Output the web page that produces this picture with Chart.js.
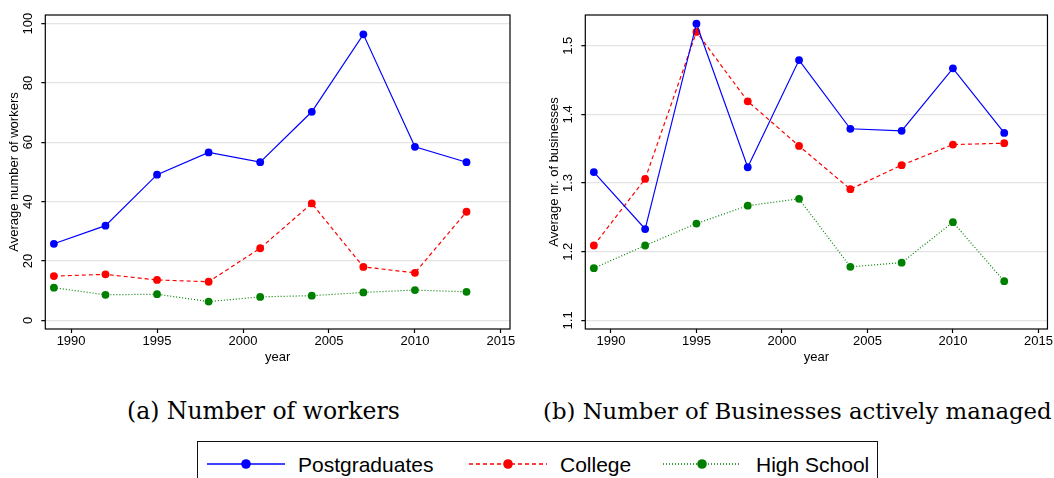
<!DOCTYPE html>
<html>
<head>
<meta charset="utf-8">
<script src="https://cdn.jsdelivr.net/npm/chart.js@4/dist/chart.umd.min.js"></script>
<style>
    body { margin: 0; width: 1054px; height: 478px; background: #fff; position: relative; overflow: hidden; font-family: "Liberation Sans", Arial, sans-serif; }
    .panel { position: absolute; top: 0; height: 368px; }
    #panel-a { left: 0; width: 520px; }
    #panel-b { left: 530px; width: 524px; }
    .caption { position: absolute; top: 396px; font-family: "DejaVu Serif", serif; font-size: 23.5px; line-height: 30px; white-space: nowrap; color: #000; }
    #caption-b { font-size: 22.8px; }
    #legend { position: absolute; left: 197px; top: 441px; width: 681px; height: 60px; border: 1px solid #111; box-sizing: border-box; }
    .legend-item { position: absolute; top: 0; }
    .legend-item svg { position: absolute; top: 13px; }
    .legend-item span { position: absolute; top: 12px; font-size: 21px; line-height: 21px; white-space: nowrap; color: #000; }
</style>
</head>
<body>
<div class="panel" id="panel-a"><canvas id="chart-workers"></canvas></div>
<div class="panel" id="panel-b"><canvas id="chart-business"></canvas></div>
<div class="caption" id="caption-a" style="left:127px"></div>
<div class="caption" id="caption-b" style="left:543px"></div>
<div id="legend"></div>
<script>
const years = [1989, 1992, 1995, 1998, 2001, 2004, 2007, 2010, 2013];
const workersPostgrad = [25.8, 31.9, 49.1, 56.6, 53.3, 70.3, 96.4, 58.5, 53.3];
const workersCollege = [14.9, 15.5, 13.6, 13.0, 24.3, 39.4, 18.0, 16.0, 36.6];
const workersHighSchool = [11.0, 8.6, 8.8, 6.3, 7.9, 8.3, 9.4, 10.2, 9.6];
const bizPostgrad = [1.316, 1.233, 1.532, 1.323, 1.479, 1.379, 1.376, 1.467, 1.373];
const bizCollege = [1.209, 1.306, 1.520, 1.419, 1.354, 1.291, 1.326, 1.356, 1.358];
const bizHighSchool = [1.176, 1.209, 1.241, 1.267, 1.277, 1.178, 1.184, 1.243, 1.157];
const seriesNames = ['Postgraduates', 'College', 'High School'];
const xTicks = [1990, 1995, 2000, 2005, 2010, 2015];
const workersTicks = [0, 20, 40, 60, 80, 100];
const bizTicks = [1.1, 1.2, 1.3, 1.4, 1.5];
const captions = ['(a) Number of workers', '(b) Number of Businesses actively managed'];

const seriesStyle = [
    { color: '#0000ff', dash: [] },
    { color: '#ff0000', dash: [4, 3] },
    { color: '#008000', dash: [1, 2] }
];

// frame round the plot area plus Stata style vertical y tick labels
const stataAxes = {
    id: 'stataAxes',
    beforeDatasetsDraw(chart) {
        const { ctx, chartArea: a } = chart;
        ctx.save();
        ctx.strokeStyle = '#000';
        ctx.lineWidth = 1.2;
        ctx.strokeRect(a.left, a.top, a.right - a.left, a.bottom - a.top);
        ctx.restore();
    },
    afterDraw(chart) {
        const { ctx } = chart;
        const y = chart.scales.y;
        ctx.save();
        ctx.font = '13px "Liberation Sans"';
        ctx.fillStyle = '#000';
        ctx.textAlign = 'center';
        ctx.textBaseline = 'middle';
        y.ticks.forEach(t => {
            ctx.save();
            ctx.translate(chart.chartArea.left - 16.5, y.getPixelForValue(t.value));
            ctx.rotate(-Math.PI / 2);
            ctx.fillText(String(t.value), 0, 0);
            ctx.restore();
        });
        ctx.restore();
    }
};

function makeChart(id, seriesValues, yTicks, yTitle, yMin, yMax, box) {
    const datasets = seriesValues.map((vals, i) => ({
        label: seriesNames[i],
        data: years.map((yr, j) => ({ x: yr, y: vals[j] })),
        borderColor: seriesStyle[i].color,
        backgroundColor: seriesStyle[i].color,
        borderDash: seriesStyle[i].dash,
        borderWidth: 1.2,
        pointRadius: 3.9,
        pointBorderWidth: 0,
        pointHoverRadius: 3.9,
        tension: 0,
        fill: false
    }));
    return new Chart(document.getElementById(id), {
        type: 'line',
        data: { datasets },
        options: {
            responsive: true,
            maintainAspectRatio: false,
            animation: false,
            layout: { autoPadding: false, padding: { left: 0, top: 15, right: box.right, bottom: 0 } },
            plugins: { legend: { display: false }, tooltip: { enabled: false } },
            scales: {
                x: {
                    type: 'linear',
                    min: 1988.5,
                    max: 2015.53,
                    afterBuildTicks: s => { s.ticks = xTicks.map(v => ({ value: v })); },
                    afterFit: s => { s.height = 39; },
                    border: { display: false },
                    grid: { drawOnChartArea: false, drawTicks: true, tickLength: 4, tickColor: '#000', tickWidth: 1.2 },
                    ticks: { color: '#000', font: { family: 'Liberation Sans', size: 13 }, padding: 1, maxRotation: 0, callback: v => String(v) },
                    title: { display: true, text: 'year', color: '#000', font: { family: 'Liberation Sans', size: 13 }, padding: { top: 0, bottom: 3 } }
                },
                y: {
                    type: 'linear',
                    min: yMin,
                    max: yMax,
                    afterBuildTicks: s => { s.ticks = yTicks.map(v => ({ value: v })); },
                    afterFit: s => { s.width = box.axis; },
                    border: { display: false },
                    grid: { color: '#e4e4e4', lineWidth: 1.3, drawTicks: true, tickLength: 4, tickColor: '#000', tickWidth: 1.2 },
                    ticks: { display: false },
                    title: { display: true, text: yTitle, color: '#000', font: { family: 'Liberation Sans', size: 13 }, padding: { top: box.title, bottom: 0 } }
                }
            }
        },
        plugins: [stataAxes]
    });
}

makeChart('chart-workers', [workersPostgrad, workersCollege, workersHighSchool], workersTicks,
    'Average number of workers', -2.93, 102.93, { axis: 45.3, right: 10, title: 6.9 });
makeChart('chart-business', [bizPostgrad, bizCollege, bizHighSchool], bizTicks,
    'Average nr. of businesses', 1.0874, 1.5447, { axis: 55.3, right: 6.3, title: 16.2 });

document.getElementById('caption-a').textContent = captions[0];
document.getElementById('caption-b').textContent = captions[1];

// legend: line sample with marker, then the name
const legendSampleLeft = [9, 271, 465];
const legendTextLeft = [100, 362, 558];
const legend = document.getElementById('legend');
seriesNames.forEach((name, i) => {
    const item = document.createElement('div');
    item.className = 'legend-item';
    const st = seriesStyle[i];
    item.innerHTML =
        `<svg width="80" height="18" style="left:${legendSampleLeft[i]}px">` +
        `<line x1="0" y1="9" x2="78" y2="9" stroke="${st.color}" stroke-width="1.4" stroke-dasharray="${st.dash.join(' ')}"/>` +
        `<circle cx="39" cy="9" r="4.8" fill="${st.color}"/></svg>` +
        `<span style="left:${legendTextLeft[i]}px">${name}</span>`;
    legend.appendChild(item);
});
</script>
</body>
</html>
